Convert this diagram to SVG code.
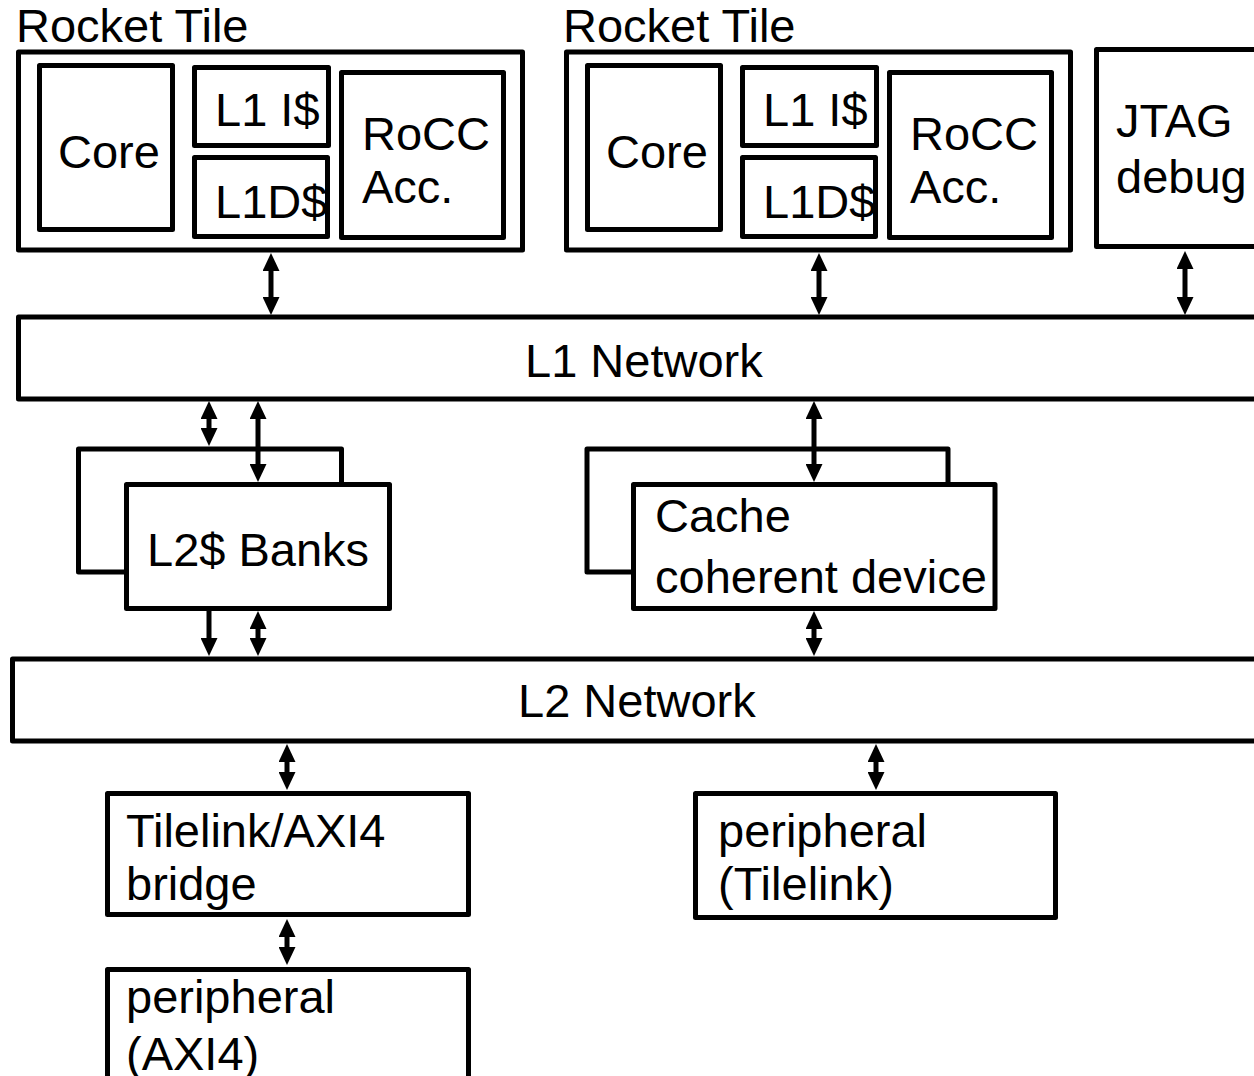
<svg xmlns="http://www.w3.org/2000/svg" width="1254" height="1076" viewBox="0 0 1254 1076">
<style>
  .box { fill: #fff; stroke: #000; stroke-width: 5; stroke-linejoin: round; }
  .lbl { font-family: "Liberation Sans", Arial, Helvetica, sans-serif; font-size: 47px; fill: #000; }
  .conn { stroke: #000; stroke-width: 5; fill: none; }
  .bi { marker-start: url(#ah); marker-end: url(#ah); }
  .uni { marker-end: url(#ah); }
</style>
<defs>
  <marker id="ah" markerUnits="userSpaceOnUse" markerWidth="18" markerHeight="17" refX="12" refY="8.5" orient="auto-start-reverse" viewBox="0 0 18 17">
    <path d="M0,0 L18,8.5 L0,17 z" fill="#000"/>
  </marker>
</defs>
<rect width="1254" height="1076" fill="#fff"/>

<g id="tile1">
  <text class="lbl" x="16" y="42">Rocket Tile</text>
  <rect class="box" x="18.5" y="52" width="504" height="198"/>
  <g id="core1"><rect class="box" x="39.5" y="65.5" width="133" height="164"/><text class="lbl" x="58" y="168">Core</text></g>
  <g id="l1i1"><rect class="box" x="194.5" y="67.5" width="134" height="78"/><text class="lbl" x="215" y="126">L1 I$</text></g>
  <g id="l1d1"><rect class="box" x="194.5" y="157.5" width="133" height="79"/><text class="lbl" x="215" y="218">L1D$</text></g>
  <g id="rocc1"><rect class="box" x="341.5" y="72.5" width="162" height="165"/><text class="lbl" x="362" y="150">RoCC</text><text class="lbl" x="362" y="203">Acc.</text></g>
</g>

<g id="tile2">
  <text class="lbl" x="563" y="42">Rocket Tile</text>
  <rect class="box" x="566.5" y="52" width="504" height="198"/>
  <g id="core2"><rect class="box" x="587.5" y="65.5" width="133" height="164"/><text class="lbl" x="606" y="168">Core</text></g>
  <g id="l1i2"><rect class="box" x="742.5" y="67.5" width="134" height="78"/><text class="lbl" x="763" y="126">L1 I$</text></g>
  <g id="l1d2"><rect class="box" x="742.5" y="157.5" width="133" height="79"/><text class="lbl" x="763" y="218">L1D$</text></g>
  <g id="rocc2"><rect class="box" x="889.5" y="72.5" width="162" height="165"/><text class="lbl" x="910" y="150">RoCC</text><text class="lbl" x="910" y="203">Acc.</text></g>
</g>

<g id="jtag">
  <rect class="box" x="1096.5" y="49.5" width="220" height="197"/>
  <text class="lbl" x="1116" y="137">JTAG</text>
  <text class="lbl" x="1116" y="193">debug</text>
</g>

<g id="l1net">
  <rect class="box" x="18.5" y="317" width="1260" height="82"/>
  <text class="lbl" x="525" y="377">L1 Network</text>
</g>

<g id="l2banks">
  <rect class="box" x="78.5" y="449" width="263" height="123"/>
  <rect class="box" x="126.5" y="484.5" width="263" height="124"/>
  <text class="lbl" x="147" y="566">L2$ Banks</text>
</g>

<g id="cohdev">
  <rect class="box" x="587" y="449" width="361" height="123"/>
  <rect class="box" x="633.5" y="484.5" width="361.5" height="124"/>
  <text class="lbl" x="655" y="532">Cache</text>
  <text class="lbl" x="655" y="593">coherent device</text>
</g>

<g id="l2net">
  <rect class="box" x="12.5" y="659" width="1270" height="82"/>
  <text class="lbl" x="518" y="717">L2 Network</text>
</g>

<g id="bridge">
  <rect class="box" x="107.5" y="793.5" width="361" height="121"/>
  <text class="lbl" x="126" y="847">Tilelink/AXI4</text>
  <text class="lbl" x="126" y="900">bridge</text>
</g>

<g id="periph_tl">
  <rect class="box" x="695.5" y="793.5" width="360" height="124"/>
  <text class="lbl" x="718" y="847">peripheral</text>
  <text class="lbl" x="718" y="900">(Tilelink)</text>
</g>

<g id="periph_axi">
  <rect class="box" x="107.5" y="969.5" width="361" height="200"/>
  <text class="lbl" x="126" y="1013">peripheral</text>
  <text class="lbl" x="126" y="1070">(AXI4)</text>
</g>

<g id="connectors">
  <line class="conn bi" x1="271" y1="259" x2="271" y2="309"/>
  <line class="conn bi" x1="819" y1="259" x2="819" y2="309"/>
  <line class="conn bi" x1="1185" y1="257" x2="1185" y2="309"/>
  <line class="conn bi" x1="209" y1="407" x2="209" y2="440"/>
  <line class="conn bi" x1="258" y1="407" x2="258" y2="476"/>
  <line class="conn bi" x1="814" y1="407" x2="814" y2="476"/>
  <line class="conn uni" x1="209" y1="611" x2="209" y2="650"/>
  <line class="conn bi" x1="258" y1="617" x2="258" y2="650"/>
  <line class="conn bi" x1="814" y1="617" x2="814" y2="650"/>
  <line class="conn bi" x1="287" y1="750" x2="287" y2="784"/>
  <line class="conn bi" x1="876" y1="750" x2="876" y2="784"/>
  <line class="conn bi" x1="287" y1="925" x2="287" y2="959"/>
</g>
</svg>
